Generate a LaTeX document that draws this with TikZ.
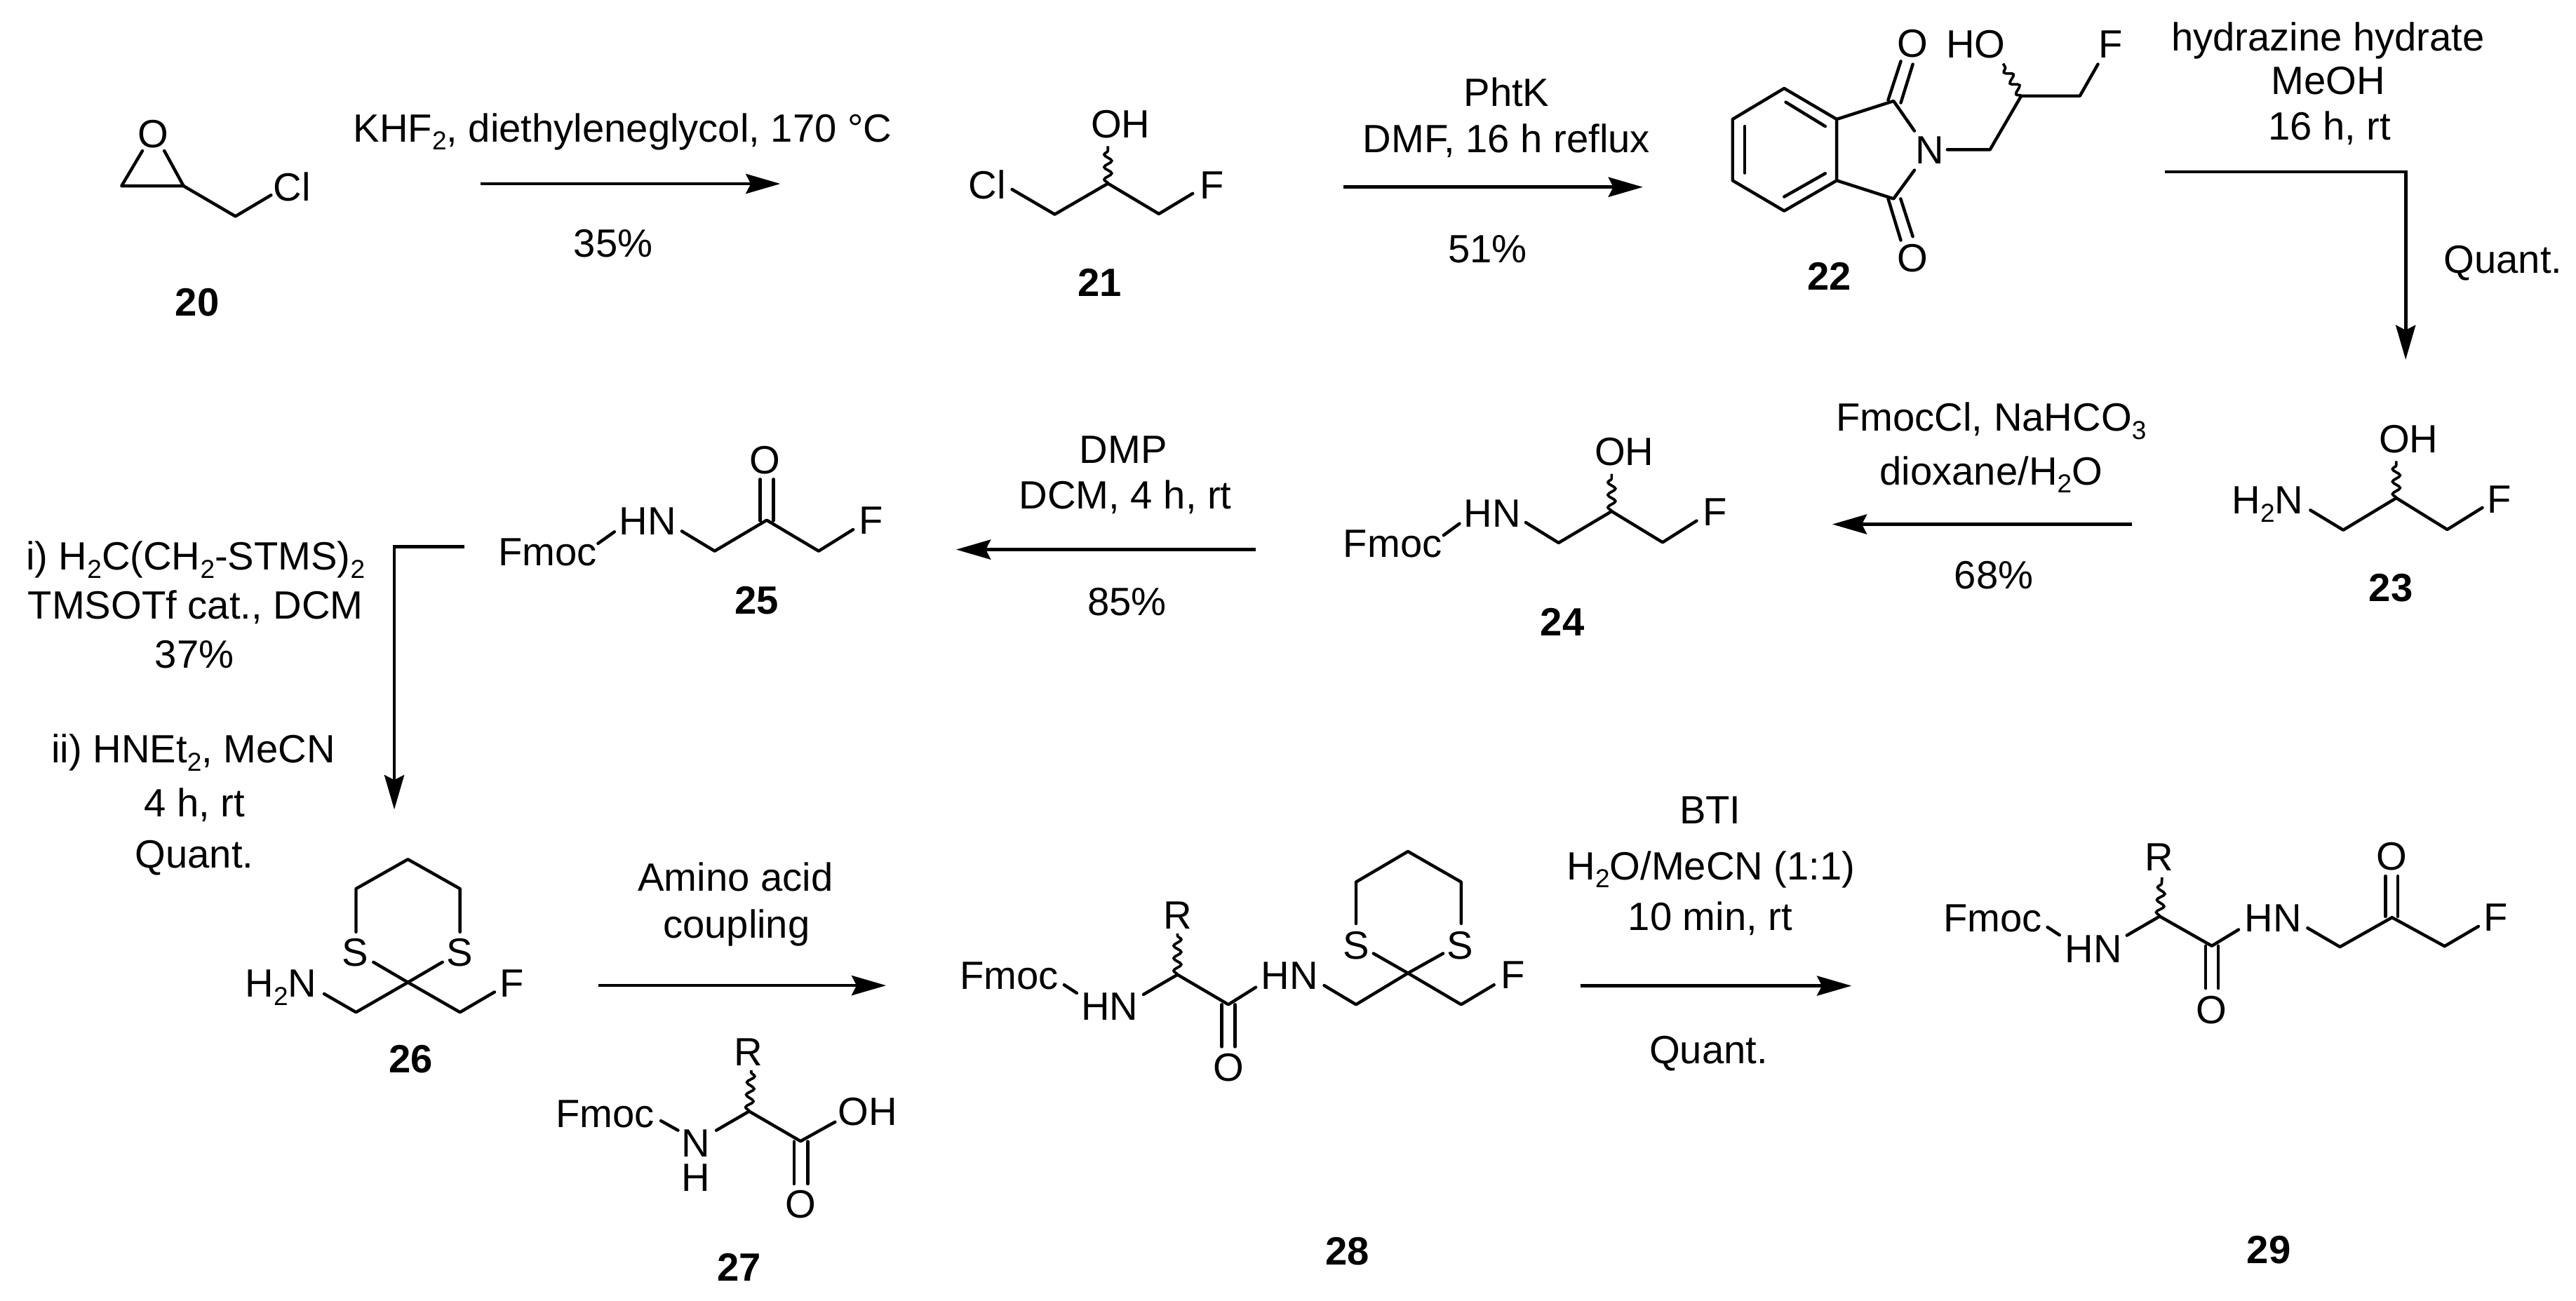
\documentclass[tikz,border=0pt]{standalone}
\usepackage{fontspec}
\setmainfont{Liberation Sans}
\usetikzlibrary{arrows.meta,decorations.pathmorphing}
\newcommand{\sbs}[1]{\raisebox{-5pt}{\fontsize{15.8}{15.8}\selectfont #1}}
\tikzset{
  lab/.style={inner sep=0pt,text height=16.7pt,text depth=0pt,font=\fontsize{24}{25}\selectfont},
  cpd/.style={lab,font=\fontsize{24}{25}\selectfont\bfseries},
  bond/.style={line width=1.9pt,line join=round,line cap=round},
  wavybond/.style={line width=1.6pt,decorate,decoration={snake,segment length=7.6pt,amplitude=2.3pt}},
  rxn/.style={line width=2pt,-{Stealth[length=21pt,width=12pt,inset=3pt]}}
}
\begin{document}
\begin{tikzpicture}[x=1pt,y=-1pt]
\useasboundingbox (0,0) rectangle (1568,792.1);
% --- reaction arrows
\coordinate (a1s) at (292.7,111.9); \coordinate (a1e) at (475,111.9);
\coordinate (a2s) at (817.7,113.9); \coordinate (a2e) at (1000,113.9);
\coordinate (a3s) at (1317.6,104.6); \coordinate (a3c) at (1464.3,104.6); \coordinate (a3e) at (1464.3,219);
\coordinate (a4s) at (1297.6,319.2); \coordinate (a4e) at (1115.3,319.2);
\coordinate (a5s) at (764.4,334.6); \coordinate (a5e) at (582,334.6);
\coordinate (a6s) at (282.7,333); \coordinate (a6c) at (240,333); \coordinate (a6e) at (240,492.9);
\coordinate (a7s) at (364.3,600); \coordinate (a7e) at (539.4,600);
\coordinate (a8s) at (962,600.2); \coordinate (a8e) at (1127,600.2);
\draw[rxn] (a1s) -- (a1e);
\draw[rxn] (a2s) -- (a2e);
\draw[rxn] (a3s) -- (a3c) -- (a3e);
\draw[rxn] (a4s) -- (a4e);
\draw[rxn] (a5s) -- (a5e);
\draw[rxn] (a6s) -- (a6c) -- (a6e);
\draw[rxn] (a7s) -- (a7e);
\draw[rxn] (a8s) -- (a8e);
% --- reaction conditions
\node[lab] (t1a) at (379,78) {KHF\sbs{2}, diethyleneglycol, 170 °C};
\node[lab] (t1b) at (373.3,148) {35\%};
\node[lab] (t2a) at (917,56.2) {PhtK};
\node[lab] (t2b) at (917,84.7) {DMF, 16 h reflux};
\node[lab] (t2c) at (905.4,151.6) {51\%};
\node[lab] (t3a) at (1417,22.5) {hydrazine hydrate};
\node[lab] (t3b) at (1417,49) {MeOH};
\node[lab] (t3c) at (1418,76.9) {16 h, rt};
\node[lab] (t3d) at (1523.6,158) {Quant.};
\node[lab] (t4a) at (1212,254) {FmocCl, NaHCO\sbs{3}};
\node[lab] (t4b) at (1212,286.8) {dioxane/H\sbs{2}O};
\node[lab] (t4c) at (1213.6,350) {68\%};
\node[lab] (t5a) at (683.7,273.7) {DMP};
\node[lab] (t5b) at (685,301.3) {DCM, 4 h, rt};
\node[lab] (t5c) at (686,366.2) {85\%};
\node[lab] (t6a) at (119,338.8) {i) H\sbs{2}C(CH\sbs{2}-STMS)\sbs{2}};
\node[lab] (t6b) at (119,368.6) {TMSOTf cat., DCM};
\node[lab] (t6c) at (118.3,398.5) {37\%};
\node[lab] (t6d) at (117.7,456) {ii) HNEt\sbs{2}, MeCN};
\node[lab] (t6e) at (118.3,488.7) {4 h, rt};
\node[lab] (t6f) at (118.3,520.1) {Quant.};
\node[lab] (t7a) at (447.7,534.1) {Amino acid};
\node[lab] (t7b) at (448.3,562.7) {coupling};
\node[lab] (t8a) at (1041,493.2) {BTI};
\node[lab] (t8b) at (1041.5,527.2) {H\sbs{2}O/MeCN (1:1)};
\node[lab] (t8c) at (1041,557.9) {10 min, rt};
\node[lab] (t8d) at (1040,639) {Quant.};
% --- compound numbers
\node[cpd] (c20) at (120,183.9) {20};
\node[cpd] (c21) at (669.4,172.2) {21};
\node[cpd] (c22) at (1113.6,168.2) {22};
\node[cpd] (c23) at (1455.3,358) {23};
\node[cpd] (c24) at (951,378.9) {24};
\node[cpd] (c25) at (460.7,365.4) {25};
\node[cpd] (c26) at (250,644.7) {26};
\node[cpd] (c27) at (450,771.6) {27};
\node[cpd] (c28) at (820,761.8) {28};
\node[cpd] (c29) at (1381,760.7) {29};
% --- 20
\node[lab] (m20o) at (93.3,81.4) {O};
\node[lab] (m20cl) at (177.7,113.9) {Cl};
\draw[bond] (86.7,91.8) -- (74,113.2) -- (111.7,113.2) -- (100,91.8);
\draw[bond] (111.7,113.2) -- (143.3,131.7) -- (165,118.8);
% --- 21
\node[lab] (m21oh) at (682,75.4) {OH};
\node[lab] (m21cl) at (601,112.9) {Cl};
\node[lab] (m21f) at (737.7,112.9) {F};
\draw[bond] (616,115.3) -- (642,130.5) -- (674.4,111.7) -- (705.4,130.2) -- (726,117.8);
\draw[wavybond] (674.4,111.7) -- (674.4,89);
% --- 22
\node[lab] (m22n) at (1174.6,91.5) {N};
\node[lab] (m22o1) at (1164.3,26.3) {O};
\node[lab] (m22o2) at (1164.3,157.3) {O};
\node[lab] (m22ho) at (1202.6,27) {HO};
\node[lab] (m22f) at (1284.6,27) {F};
\draw[bond] (1086,53.8) -- (1118,72.6) -- (1118,109.9) -- (1086,128.4) -- (1054.6,109.9) -- (1054.6,72.6) -- cycle;
\draw[bond] (1087,62.2) -- (1111,76.9);
\draw[bond] (1062,76.9) -- (1062,105.3);
\draw[bond] (1111,105.6) -- (1086,119.8);
\draw[bond] (1118,72.6) -- (1152.6,61.5) -- (1165.3,79.7);
\draw[bond] (1118,109.9) -- (1152.6,121) -- (1165.3,103.6);
\draw[bond] (1149.3,60.9) -- (1157,37.3);
\draw[bond] (1157,62.6) -- (1164.3,39.1);
\draw[bond] (1149.3,121) -- (1157,146.3);
\draw[bond] (1156.9,121) -- (1164.3,144);
\draw[bond] (1185.3,91.1) -- (1211.3,91.1) -- (1230.3,58.4) -- (1266,58.4) -- (1277,39.1);
\draw[wavybond] (1230.3,58.4) -- (1219.3,38.7);
% --- 23
\node[lab] (m23oh) at (1466,267.2) {OH};
\node[lab] (m23n) at (1380.3,304.6) {H\sbs{2}N};
\node[lab] (m23f) at (1521.3,304.2) {F};
\draw[bond] (1406.3,310.6) -- (1426.3,322.7) -- (1458.6,303.2) -- (1489.6,322.4) -- (1511,309.1);
\draw[wavybond] (1458.6,303.2) -- (1458.6,280.7);
% --- 24
\node[lab] (m24fm) at (847.7,330.9) {Fmoc};
\node[lab] (m24n) at (908.4,312.4) {HN};
\node[lab] (m24oh) at (988.7,275) {OH};
\node[lab] (m24f) at (1044,311.7) {F};
\draw[bond] (878.7,325.9) -- (888.4,318.8);
\draw[bond] (928.7,318.1) -- (948.7,330.5) -- (981,311.3) -- (1012,330.2) -- (1032.7,317.1);
\draw[wavybond] (981,311.3) -- (981,288.5);
% --- 25
\node[lab] (m25fm) at (333.3,336.2) {Fmoc};
\node[lab] (m25n) at (394.3,317.4) {HN};
\node[lab] (m25o) at (465.7,280) {O};
\node[lab] (m25f) at (530,317) {F};
\draw[bond] (364,330.9) -- (374,323.8);
\draw[bond] (415,323.4) -- (435,335.5) -- (466.7,316.7) -- (498.3,335.5) -- (519.3,322.4);
\draw[bond] (462.7,291.8) -- (462.7,317);
\draw[bond] (470.7,291.8) -- (470.7,317);
% --- 26
\node[lab] (m26s1) at (216,580) {S};
\node[lab] (m26s2) at (280,580) {S};
\node[lab] (m26n) at (171,598.8) {H\sbs{2}N};
\node[lab] (m26f) at (311.7,598.8) {F};
\draw[bond] (216.7,567.4) -- (216.7,541.1) -- (248.3,523.2) -- (280,541.1) -- (280,567.4);
\draw[bond] (227.3,585.8) -- (248.3,598.1) -- (269.3,585.8);
\draw[bond] (197.3,605.1) -- (216.7,616.3) -- (248.3,598.1) -- (280,616.3) -- (301,604);
% --- 27
\node[lab] (m27r) at (455.7,640.5) {R};
\node[lab] (m27fm) at (368.3,678) {Fmoc};
\node[lab] (m27n) at (423.3,695.9) {N};
\node[lab] (m27h) at (423.3,716.9) {H};
\node[lab] (m27oh) at (528,676.7) {OH};
\node[lab] (m27o) at (487.3,733.2) {O};
\draw[bond] (402.3,682.4) -- (412.7,688.2);
\draw[bond] (436,688.2) -- (456,676.6) -- (487.3,694.8) -- (508.3,683.1);
\draw[wavybond] (456,676.6) -- (457.3,651.7);
\draw[bond] (483.3,695) -- (483.3,720.8);
\draw[bond] (491.7,695) -- (491.7,720.8);
% --- 28
\node[lab] (m28fm) at (614.4,594) {Fmoc};
\node[lab] (m28n1) at (675.4,612.7) {HN};
\node[lab] (m28r) at (716.7,557.2) {R};
\node[lab] (m28n2) at (785,594) {HN};
\node[lab] (m28o) at (747.7,650) {O};
\node[lab] (m28s1) at (825.4,575.4) {S};
\node[lab] (m28s2) at (888.7,575.4) {S};
\node[lab] (m28f) at (921,593.4) {F};
\draw[bond] (647.7,599.6) -- (655.4,604.6);
\draw[bond] (696,605.5) -- (716.7,593.4) -- (747.7,611.6) -- (764.4,601.1);
\draw[wavybond] (716.7,593.4) -- (716.7,568.4);
\draw[bond] (743.7,611.6) -- (743.7,637.3);
\draw[bond] (751.7,611.6) -- (751.7,637.3);
\draw[bond] (806,600) -- (825.4,611.6) -- (857,592.5) -- (889.4,611.6) -- (909.4,599.6);
\draw[bond] (825.4,562.3) -- (825.4,537) -- (857,518.4) -- (889.4,537) -- (889.4,562.3);
\draw[bond] (836,580.5) -- (857,592.5) -- (878.4,580.5);
% --- 29
\node[lab] (m29fm) at (1213,559) {Fmoc};
\node[lab] (m29n1) at (1274.3,577.6) {HN};
\node[lab] (m29r) at (1314.3,521.7) {R};
\node[lab] (m29n2) at (1383.6,559) {HN};
\node[lab] (m29o1) at (1346.3,614.9) {O};
\node[lab] (m29o2) at (1456,521.3) {O};
\node[lab] (m29f) at (1519.3,558.6) {F};
\draw[bond] (1246.3,564.5) -- (1253.6,569.3);
\draw[bond] (1294.6,569.5) -- (1314.6,557.9) -- (1346.3,575.9) -- (1362.6,566);
\draw[wavybond] (1314.6,557.9) -- (1316,534.2);
\draw[bond] (1342.6,575.9) -- (1342.6,601.7);
\draw[bond] (1350.3,575.9) -- (1350.3,601.7);
\draw[bond] (1404.6,565) -- (1424.3,576.5) -- (1456,558.6) -- (1488,576.1) -- (1508.6,564);
\draw[bond] (1452,533.4) -- (1452,558);
\draw[bond] (1459.6,533.4) -- (1459.6,558);
\end{tikzpicture}
\end{document}
